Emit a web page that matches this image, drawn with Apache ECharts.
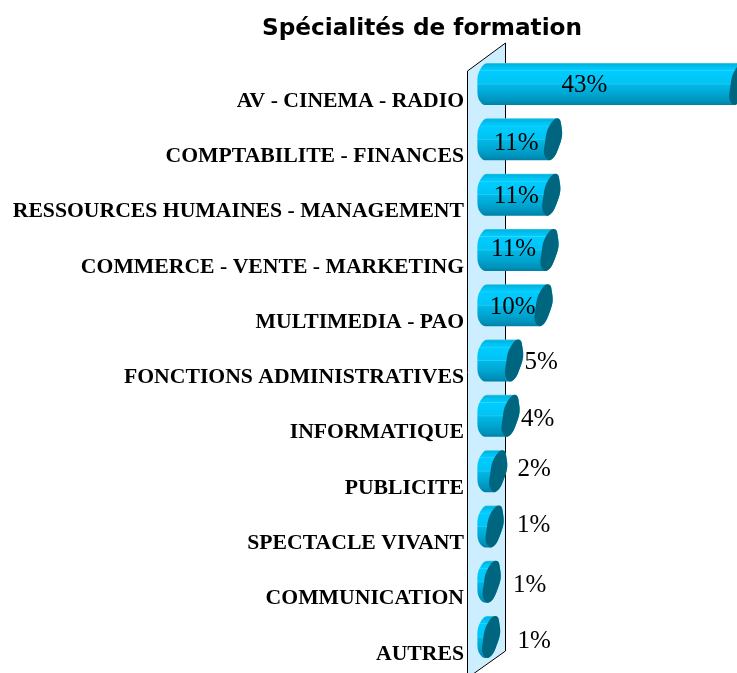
<!DOCTYPE html>
<html><head><meta charset="utf-8">
<style>html,body{margin:0;padding:0;background:#fff}#c{width:737px;height:673px}</style>
<script src="https://cdn.jsdelivr.net/npm/echarts@6/dist/echarts.min.js"></script>
</head><body><div id="c"></div>
<script>
var categories = ['AV - CINEMA - RADIO','COMPTABILITE - FINANCES','RESSOURCES HUMAINES - MANAGEMENT','COMMERCE - VENTE - MARKETING','MULTIMEDIA - PAO','FONCTIONS ADMINISTRATIVES','INFORMATIQUE','PUBLICITE','SPECTACLE VIVANT','COMMUNICATION','AUTRES'];
var values = [42.6,11.2,10.9,10.6,9.6,4.6,4.0,1.9,1.3,0.8,0.7];
var labelDx = [-154,-37,-35,-36,-31,27,27,36,39,38,43];
var labelDy = [1,4,2,-1,2,2,4,-2,-1,4,4];

function outline(cx, cy, from, to, steps, a, s){
  var b=21,pts=[];
  for(var i=0;i<=steps;i++){
    var t=from+(to-from)*i/steps;
    var w=1+0.05*Math.cos(5*t+0.6);
    pts.push([cx+(a*Math.cos(t)-s*Math.sin(t))*w, cy+b*Math.sin(t)]);
  }
  return pts;
}
var chart = echarts.init(document.getElementById('c'));
chart.setOption({
  animation:false,
  backgroundColor:'#fff',
  title:{text:'Spécialités de formation',left:417,top:12,textAlign:'center',
    textStyle:{fontFamily:'DejaVu Sans',fontWeight:'bold',fontSize:23.2,color:'#000'}},
  grid:{left:487,top:56.4,width:265.5,height:608.3,outerBoundsMode:'none'},
  xAxis:{type:'value',min:0,max:45,interval:5,show:false},
  yAxis:{type:'category',inverse:true,data:categories,
    axisLine:{show:false},axisTick:{show:false},splitLine:{show:false},
    axisLabel:{margin:23,fontFamily:'Liberation Serif',fontWeight:'bold',fontSize:21.7,color:'#000',verticalAlign:'top',lineHeight:34,interval:0}},
  graphic:[{type:'polygon',z:0,shape:{points:[[467.5,678],[467.5,71],[505.5,43],[505.5,651],[467.5,678]]},
    style:{fill:'#cceeff',stroke:'#000',lineWidth:1}}],
  series:[{type:'custom',z:5,clip:false,
    data:values.map(function(v,i){return [v,i];}),
    encode:{x:0,y:1},
    renderItem:function(params,api){
      var i=params.dataIndex, p1=api.coord([api.value(0),api.value(1)]), p0=api.coord([0,api.value(1)]);
      var left=outline(p0[0]-1,p0[1],Math.PI/2,Math.PI*1.5,16,9,1);
      var right=outline(p1[0],p1[1],-Math.PI/2,Math.PI/2,16,8,4);
      var endcap=outline(p1[0],p1[1],0,Math.PI*2,40,8,4);
      var grad=new echarts.graphic.LinearGradient(0,0,0,1,[
        {offset:0,color:'#4fcbe8'},{offset:0.03,color:'#00b4e0'},{offset:0.12,color:'#00c4f4'},
        {offset:0.17,color:'#00ccff'},{offset:0.18,color:'#33d6ff'},{offset:0.2,color:'#00ccff'},
        {offset:0.48,color:'#00c4f4'},{offset:0.5,color:'#2cc8ee'},{offset:0.52,color:'#00b8e6'},
        {offset:0.75,color:'#00a4d0'},{offset:0.92,color:'#0090b8'},{offset:1,color:'#007fa6'}]);
      var v=api.value(0);
      return {type:'group',children:[
        {type:'polygon',shape:{points:left.concat(right)},style:{fill:grad}},
        {type:'polygon',shape:{points:endcap},style:{fill:'#006680'}},
        {type:'text',x:p1[0]+labelDx[i],y:p1[1]+labelDy[i],
          style:{text:Math.round(v)+'%',fill:'#000',fontFamily:'Liberation Serif',fontSize:25,align:'center',verticalAlign:'middle'}}
      ]};
    }
  }]
});
</script></body></html>
